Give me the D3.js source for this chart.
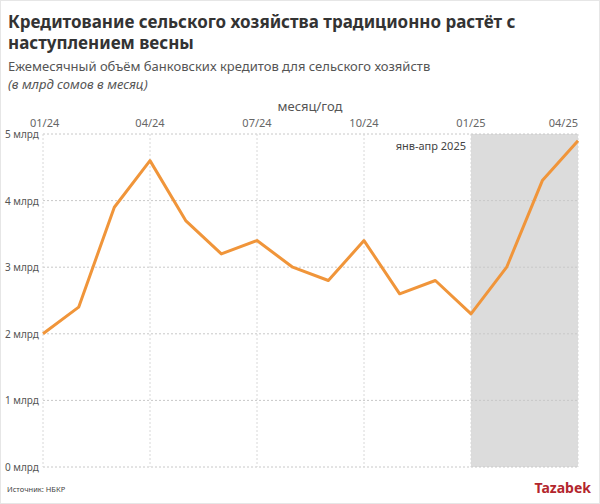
<!DOCTYPE html>
<html><head><meta charset="utf-8">
<script src="https://cdn.jsdelivr.net/npm/d3@7"></script>
<style>body{margin:0;background:#fff;font-family:"Noto Sans",sans-serif;}</style>
</head><body><div id="chart"></div>
<script>
const months = ["01/24","02/24","03/24","04/24","05/24","06/24","07/24","08/24","09/24","10/24","11/24","12/24","01/25","02/25","03/25","04/25"];
const credits = [2.0,2.4,3.9,4.6,3.7,3.2,3.4,3.0,2.8,3.4,2.6,2.8,2.3,3.0,4.3,4.9];
const tickMonths = ["01/24","04/24","07/24","10/24","01/25","04/25"];
const yTicks = [0,1,2,3,4,5];

const svg = d3.select("#chart").append("svg").attr("width", 600).attr("height", 504);
svg.append("rect").attr("x",0.5).attr("y",0.5).attr("width",599).attr("height",503)
   .attr("fill","#fff").attr("stroke","#e6e6e6");

svg.append("text").attr("x",8).attr("y",28).attr("font-size",17).attr("font-weight",700).attr("fill","#333")
   .text("Кредитование сельского хозяйства традиционно растёт с");
svg.append("text").attr("x",8).attr("y",49).attr("font-size",17).attr("font-weight",700).attr("fill","#333")
   .text("наступлением весны");
svg.append("text").attr("x",8).attr("y",71).attr("font-size",13).attr("fill","#555")
   .text("Ежемесячный объём банковских кредитов для сельского хозяйств");
svg.append("text").attr("x",8).attr("y",89).attr("font-size",13).attr("font-style","italic").attr("fill","#555")
   .text("(в млрд сомов в месяц)");

const x = d3.scalePoint().domain(months).range([43, 578]);
const y = d3.scaleLinear().domain([0, 5]).range([467, 134]);

svg.append("rect").attr("x", x("01/25")).attr("y", y(5))
   .attr("width", x("04/25") - x("01/25")).attr("height", y(0) - y(5)).attr("fill", "#dcdcdc");

const g = svg.append("g");
g.selectAll("line.h").data(yTicks).enter().append("line")
  .attr("x1", 43).attr("x2", 578).attr("y1", d => y(d)).attr("y2", d => y(d))
  .attr("stroke", "#c8c8c8").attr("stroke-dasharray", "2,2");
g.selectAll("line.v").data(tickMonths).enter().append("line")
  .attr("x1", d => x(d)).attr("x2", d => x(d)).attr("y1", y(5)).attr("y2", y(0))
  .attr("stroke", "#d8d8d8").attr("stroke-dasharray", "2,2");

svg.selectAll("text.yl").data(yTicks).enter().append("text")
  .attr("x", 5).attr("y", d => y(d) + 4).attr("font-size", 10).attr("fill", "#555")
  .text(d => d + " млрд");
svg.selectAll("text.xl").data(tickMonths).enter().append("text")
  .attr("x", d => x(d)).attr("y", 127).attr("text-anchor", (d,i) => i === 0 ? "start" : i === tickMonths.length-1 ? "end" : "middle")
  .attr("dx", (d,i) => i === 0 ? -13 : 0)
  .attr("font-size", 11).attr("fill", "#666").text(d => d);
svg.append("text").attr("x", 310).attr("y", 111).attr("text-anchor", "middle")
  .attr("font-size", 13).attr("fill", "#555").text("месяц/год");
svg.append("text").attr("x", x("01/25") - 5).attr("y", 150).attr("text-anchor", "end")
  .attr("font-size", 11).attr("fill", "#444").text("янв-апр 2025");

svg.append("path").datum(credits)
  .attr("d", d3.line().x((d,i) => x(months[i])).y(d => y(d)))
  .attr("fill", "none").attr("stroke", "#f0953a").attr("stroke-width", 3).attr("stroke-linejoin", "round");

svg.append("text").attr("x", 7).attr("y", 492).attr("font-size", 7.5).attr("fill", "#444").text("Источник: НБКР");
svg.append("text").attr("x", 591).attr("y", 493).attr("text-anchor", "end").attr("font-size", 14)
  .attr("font-weight", 700).attr("fill", "#b3262d").text("Tazabek");
</script></body></html>
